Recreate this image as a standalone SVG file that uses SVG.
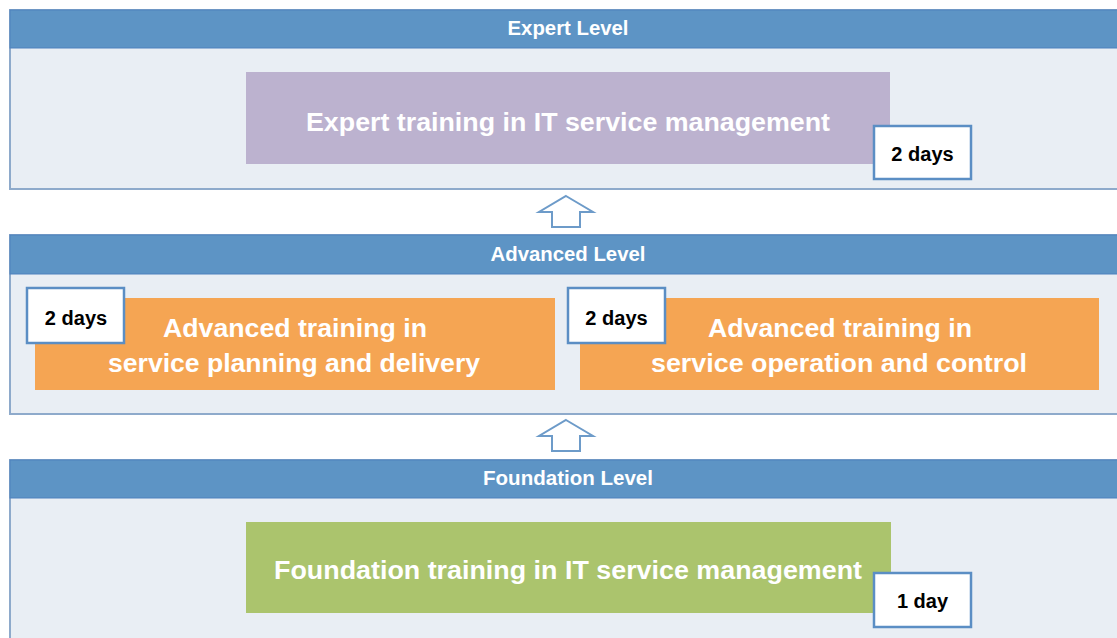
<svg xmlns="http://www.w3.org/2000/svg" width="1117" height="638" viewBox="0 0 1117 638">
<style>
.panel{fill:#e9eef4;stroke:#8eaacb;stroke-width:2}
.hdr{fill:#5d94c5;stroke:#4f81bd;stroke-width:1}
.htxt{font-family:"Liberation Sans",Arial,sans-serif;font-weight:bold;font-size:20px;fill:#ffffff;text-anchor:middle}
.btxt{font-family:"Liberation Sans",Arial,sans-serif;font-weight:bold;font-size:26px;fill:#ffffff;text-anchor:middle}
.day{fill:#ffffff;stroke:#5b8ec4;stroke-width:2.5}
.dtxt{font-family:"Liberation Sans",Arial,sans-serif;font-weight:bold;font-size:20px;fill:#000000;text-anchor:middle}
.arr{fill:#ffffff;stroke:#6d9bc9;stroke-width:2;stroke-linejoin:miter}
</style>
<rect width="1117" height="638" fill="#ffffff"/>
<g id="expert-level">
<rect class="panel" x="10" y="10" width="1108" height="179"/>
<rect class="hdr" x="10" y="10" width="1108" height="38"/>
<text class="htxt" x="568" y="35" textLength="121" lengthAdjust="spacingAndGlyphs">Expert Level</text>
</g>
<g id="expert-training">
<rect x="246" y="72" width="644" height="92" fill="#bcb2cf"/>
<text class="btxt" x="568" y="131" textLength="524" lengthAdjust="spacingAndGlyphs">Expert training in IT service management</text>
</g>
<g id="expert-days">
<rect class="day" x="874" y="126" width="97" height="53"/>
<text class="dtxt" x="922.5" y="161">2 days</text>
</g>
<g id="advanced-level">
<rect class="panel" x="10" y="235" width="1108" height="179"/>
<rect class="hdr" x="10" y="235" width="1108" height="39"/>
<text class="htxt" x="568" y="261" textLength="155" lengthAdjust="spacingAndGlyphs">Advanced Level</text>
</g>
<g id="advanced-planning">
<rect x="35" y="298" width="520" height="92" fill="#f5a553"/>
<text class="btxt" x="295" y="337" textLength="264" lengthAdjust="spacingAndGlyphs">Advanced training in</text>
<text class="btxt" x="294" y="372" textLength="372" lengthAdjust="spacingAndGlyphs">service planning and delivery</text>
</g>
<g id="advanced-planning-days">
<rect class="day" x="27" y="288" width="97" height="55"/>
<text class="dtxt" x="76" y="325">2 days</text>
</g>
<g id="advanced-operation">
<rect x="580" y="298" width="519" height="92" fill="#f5a553"/>
<text class="btxt" x="840" y="337" textLength="264" lengthAdjust="spacingAndGlyphs">Advanced training in</text>
<text class="btxt" x="839" y="372" textLength="376" lengthAdjust="spacingAndGlyphs">service operation and control</text>
</g>
<g id="advanced-operation-days">
<rect class="day" x="568" y="288" width="97" height="55"/>
<text class="dtxt" x="616.5" y="325">2 days</text>
</g>
<g id="foundation-level">
<rect class="panel" x="10" y="460" width="1108" height="190"/>
<rect class="hdr" x="10" y="460" width="1108" height="38"/>
<text class="htxt" x="568" y="485" textLength="170" lengthAdjust="spacingAndGlyphs">Foundation Level</text>
</g>
<g id="foundation-training">
<rect x="246" y="522" width="645" height="91" fill="#abc46d"/>
<text class="btxt" x="568" y="579" textLength="588" lengthAdjust="spacingAndGlyphs">Foundation training in IT service management</text>
</g>
<g id="foundation-days">
<rect class="day" x="874" y="573" width="97" height="54"/>
<text class="dtxt" x="922.5" y="608">1 day</text>
</g>
<g id="connectors">
<polygon class="arr" points="566,196 593,212 580,212 580,227 552,227 552,212 539,212"/>
<polygon class="arr" points="566,420 593,436 580,436 580,451 552,451 552,436 539,436"/>
</g>
</svg>
